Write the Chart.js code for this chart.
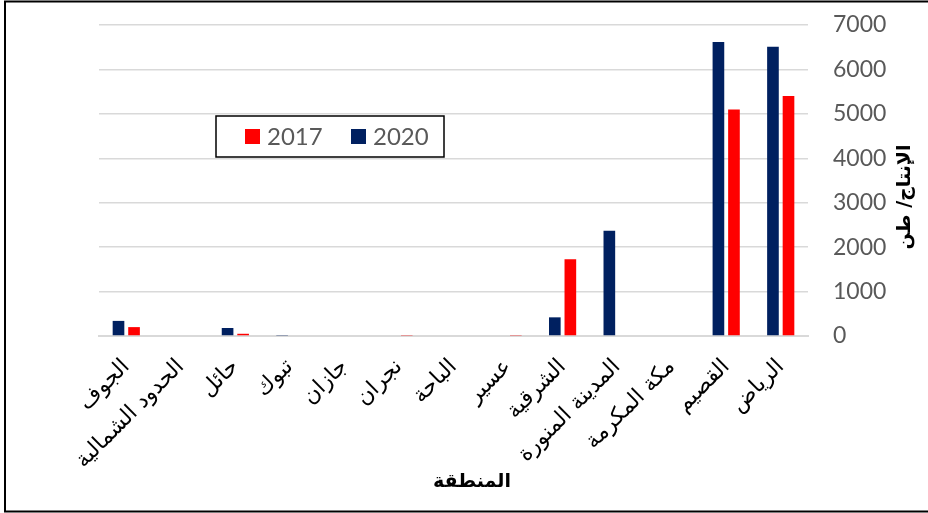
<!DOCTYPE html>
<html lang="ar">
<head>
<meta charset="utf-8">
<title>الإنتاج حسب المنطقة</title>
<script src="https://cdn.jsdelivr.net/npm/chart.js@4/dist/chart.umd.min.js"></script>
<style>
  html, body { margin: 0; padding: 0; background: #fff; }
  #wrap { width: 928px; height: 513px; position: relative; }
</style>
</head>
<body>
<div id="wrap"><canvas id="production-chart" width="928" height="513"></canvas></div>
<script>
// regions, listed from right (الرياض) to left (الجوف)
const regions = ['الرياض', 'القصيم', 'مكة المكرمة', 'المدينة المنورة', 'الشرقية', 'عسير',
                 'الباحة', 'نجران', 'جازان', 'تبوك', 'حائل', 'الحدود الشمالية', 'الجوف'];

// production in tonnes
const prod2017 = [5400, 5100, 0, 0, 1730, 10, 0, 10, 0, 0, 50, 0, 200];
const prod2020 = [6510, 6620, 0, 2370, 420, 0, 0, 0, 0, 10, 180, 0, 340];

const yTicks = [0, 1000, 2000, 3000, 4000, 5000, 6000, 7000];

const yTitle = 'الإنتاج/ طن';
const xTitle = 'المنطقة';

// frame around the whole figure
const framePlugin = {
    id: 'frame',
    afterDraw(chart) {
        const ctx = chart.ctx;
        ctx.save();
        ctx.strokeStyle = '#000';
        ctx.lineWidth = 2;
        ctx.strokeRect(5, 1.5, 930, 510);
        ctx.restore();
    }
};

// both axis titles, placed by hand
const titlesPlugin = {
    id: 'axisTitles',
    afterDraw(chart) {
        const ctx = chart.ctx;
        const area = chart.chartArea;
        ctx.save();
        ctx.fillStyle = '#000';
        ctx.font = 'bold 19px "DejaVu Sans", Arial, sans-serif';
        ctx.textAlign = 'center';
        ctx.textBaseline = 'middle';
        ctx.fillText(xTitle, area.left + 373, 482);

        ctx.translate(905, area.top + 172);
        ctx.rotate(-Math.PI / 2);
        ctx.fillText(yTitle, 0, 0);
        ctx.restore();
    }
};

// boxed legend sitting inside the plot
const boxLegendPlugin = {
    id: 'boxLegend',
    afterDatasetsDraw(chart) {
        const ctx = chart.ctx;
        const area = chart.chartArea;
        const x = area.left + 117, y = area.top + 91, w = 228, h = 41;
        ctx.save();
        ctx.fillStyle = '#fff';
        ctx.fillRect(x, y, w, h);
        ctx.strokeStyle = '#000';
        ctx.lineWidth = 1.5;
        ctx.strokeRect(x, y, w, h);

        ctx.font = '24px Lato, sans-serif';
        ctx.textBaseline = 'middle';
        ctx.textAlign = 'left';
        let cx = x + 29;
        const items = chart.data.datasets.slice().reverse();
        items.forEach(ds => {
            ctx.fillStyle = ds.backgroundColor;
            ctx.fillRect(cx, y + 13, 15, 15);
            ctx.fillStyle = '#595959';
            ctx.fillText(ds.label, cx + 22, y + 21);
            cx += 106;
        });
        ctx.restore();
    }
};

const ctx = document.getElementById('production-chart').getContext('2d');
new Chart(ctx, {
    type: 'bar',
    data: {
        labels: regions,
        datasets: [
            {
                label: '2020',
                data: prod2020,
                backgroundColor: '#002060'
            },
            {
                label: '2017',
                data: prod2017,
                backgroundColor: '#ff0000'
            }
        ]
    },
    options: {
        responsive: false,
        animation: false,
        categoryPercentage: 0.57,
        barPercentage: 0.75,
        layout: {
            padding: { left: 99, top: 25, right: 0, bottom: 0 }
        },
        plugins: {
            legend: { display: false },
            tooltip: { enabled: false }
        },
        scales: {
            x: {
                reverse: true,
                grid: { display: false },
                border: { display: true, color: '#d9d9d9', width: 2 },
                ticks: {
                    autoSkip: false,
                    minRotation: 45,
                    maxRotation: 45,
                    padding: 10,
                    color: '#000',
                    font: { family: '"DejaVu Sans", Arial, sans-serif', size: 22 }
                },
                afterFit(scale) {
                    scale.height = 513 - 336;
                }
            },
            y: {
                position: 'right',
                min: 0,
                max: 7000,
                afterBuildTicks(scale) {
                    scale.ticks = yTicks.map(v => ({ value: v }));
                },
                // invisible tick marks push the labels away from the plot
                grid: { color: '#d9d9d9', lineWidth: 1.5, drawTicks: true, tickLength: 25, tickColor: 'rgba(0,0,0,0)' },
                border: { display: false },
                ticks: {
                    padding: 0,
                    color: '#595959',
                    font: { family: 'Lato, sans-serif', size: 23 },
                    callback: value => String(value)
                },
                afterFit(scale) {
                    scale.width = 928 - 808;
                }
            }
        }
    },
    plugins: [framePlugin, titlesPlugin, boxLegendPlugin]
});
</script>
</body>
</html>
